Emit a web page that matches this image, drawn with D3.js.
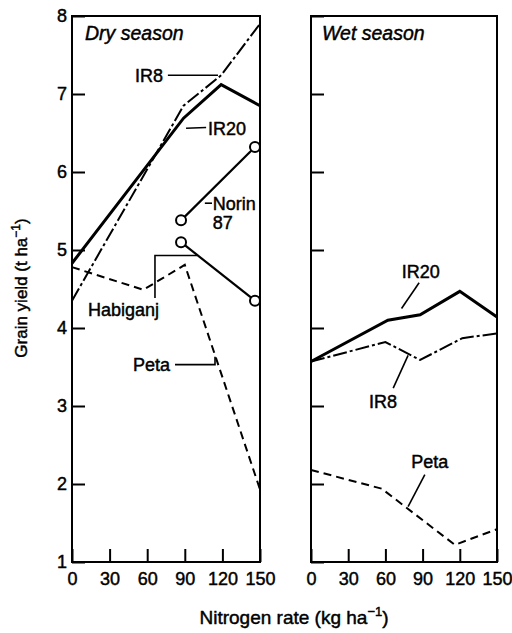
<!DOCTYPE html>
<html>
<head>
<meta charset="utf-8">
<script src="https://cdn.jsdelivr.net/npm/d3@7"></script>
<style>
  html, body { margin: 0; padding: 0; background: #fff; }
  svg { display: block; font-family: "Liberation Sans", Arial, Helvetica, sans-serif; }
  svg text { stroke: #000; stroke-width: 0.45px; fill: #000; }
</style>
</head>
<body>
<svg id="chart" width="512" height="633"></svg>
<script>
// ---------------- DATA ----------------
const xTicks = [0, 30, 60, 90, 120, 150];
const yTicks = [1, 2, 3, 4, 5, 6, 7, 8];

// Dry season
const dryIR8      = [[0, 4.35], [89, 6.85], [119, 7.24], [150, 7.9]];
const dryIR20     = [[0, 4.83], [89, 6.69], [119, 7.12], [150, 6.85]];
const dryNorin87  = [[87, 5.38], [146, 6.32]];
const dryHabiganj = [[87, 5.10], [146, 4.35]];
const dryPeta     = [[0, 4.78], [57, 4.49], [90, 4.81], [150, 1.93]];

// Wet season
const wetIR20 = [[0, 3.57], [62, 4.10], [88, 4.17], [120, 4.47], [150, 4.14]];
const wetIR8  = [[0, 3.57], [60, 3.82], [88, 3.59], [122, 3.87], [150, 3.93]];
const wetPeta = [[0, 2.18], [57, 1.94], [116, 1.22], [150, 1.42]];

// Labels (data coordinates) and leader lines
const dryLabels = [
  { text: "IR8", x: 72.6, y: 7.23, anchor: "end" },
  { text: "IR20", x: 108.5, y: 6.55, anchor: "start" },
  { text: "Norin", x: 112.3, y: 5.60, anchor: "start" },
  { text: "87", x: 112.3, y: 5.35, anchor: "start" },
  { text: "Habiganj", x: 12.8, y: 4.24, anchor: "start" },
  { text: "Peta", x: 48.7, y: 3.53, anchor: "start" }
];
const dryLeaders = [
  [[76.5, 7.24], [116.5, 7.24]],
  [[91, 6.56], [107, 6.57]],
  [[106, 5.60], [111.7, 5.60]],
  [[66.2, 4.385], [66.2, 4.93], [99.7, 4.93]],
  [[82.2, 3.53], [114.1, 3.53], [114.1, 3.63]]
];
const wetLabels = [
  { text: "IR20", x: 88.6, y: 4.72, anchor: "middle" },
  { text: "IR8", x: 58, y: 3.06, anchor: "middle" },
  { text: "Peta", x: 95.8, y: 2.29, anchor: "middle" }
];
const wetLeaders = [
  [[87.2, 4.58], [73.0, 4.25]],
  [[66.3, 3.23], [78.3, 3.65]],
  [[91.8, 2.12], [78.3, 1.71]]
];

// ---------------- DRAW ----------------
const svg = d3.select("#chart");
const plotTop = 16, plotBottom = 562;
const y = d3.scaleLinear().domain([1, 8]).range([plotBottom, plotTop]);
const xDry = d3.scaleLinear().domain([0, 150]).range([72, 260]);
const xWet = d3.scaleLinear().domain([0, 150]).range([311, 497]);

const styles = {
  solidThick: { w: 3, dash: null },
  solid: { w: 2.2, dash: null },
  dashdot: { w: 2, dash: "14,3,3,3" },
  dashed: { w: 2, dash: "8,5" }
};

function panel(x, showLabels, title, series, labels, leaders, circles) {
  const g = svg.append("g");

  // frame
  g.append("rect")
    .attr("x", x.range()[0]).attr("y", plotTop)
    .attr("width", x.range()[1] - x.range()[0]).attr("height", plotBottom - plotTop)
    .attr("fill", "none").attr("stroke", "#000").attr("stroke-width", 2);

  // y axis
  const ya = g.append("g").attr("transform", `translate(${x.range()[0]},0)`)
    .call(d3.axisLeft(y).tickValues(yTicks).tickSize(-13).tickPadding(5)
      .tickFormat(showLabels ? d3.format("d") : () => ""));
  ya.select(".domain").remove();
  ya.selectAll(".tick line").attr("stroke", "#000").attr("stroke-width", 2);
  ya.selectAll(".tick text").attr("font-size", 18)
    .attr("font-family", "Liberation Sans, Arial, sans-serif");

  // x axis
  const xa = g.append("g").attr("transform", `translate(0,${plotBottom})`)
    .call(d3.axisBottom(x).tickValues(xTicks).tickSize(-13).tickPadding(10).tickFormat(d3.format("d")));
  xa.select(".domain").remove();
  xa.selectAll(".tick line").attr("stroke", "#000").attr("stroke-width", 2);
  xa.selectAll(".tick text").attr("font-size", 18)
    .attr("font-family", "Liberation Sans, Arial, sans-serif");

  // title
  g.append("text").attr("x", x(title.x)).attr("y", y(title.y)).attr("dy", "0.35em")
    .attr("font-size", 19.5).attr("font-style", "italic").text(title.text);

  const line = d3.line().x(d => x(d[0])).y(d => y(d[1]));

  series.forEach(s => {
    g.append("path").datum(s.data).attr("d", line)
      .attr("fill", "none").attr("stroke", "#000")
      .attr("stroke-width", styles[s.style].w)
      .attr("stroke-dasharray", styles[s.style].dash)
      .attr("stroke-linejoin", "miter");
  });

  leaders.forEach(l => {
    g.append("path").datum(l).attr("d", line)
      .attr("fill", "none").attr("stroke", "#000").attr("stroke-width", 1.6);
  });

  circles.forEach(c => {
    g.selectAll(null).data(c).enter().append("circle")
      .attr("cx", d => x(d[0])).attr("cy", d => y(d[1])).attr("r", 5)
      .attr("fill", "#fff").attr("stroke", "#000").attr("stroke-width", 2);
  });

  labels.forEach(l => {
    g.append("text").attr("x", x(l.x)).attr("y", y(l.y)).attr("dy", "0.35em")
      .attr("text-anchor", l.anchor).attr("font-size", 18).text(l.text);
  });
}

panel(xDry, true, { text: "Dry season", x: 10.4, y: 7.78 },
  [
    { data: dryIR8, style: "dashdot" },
    { data: dryIR20, style: "solidThick" },
    { data: dryNorin87, style: "solid" },
    { data: dryHabiganj, style: "solid" },
    { data: dryPeta, style: "dashed" }
  ], dryLabels, dryLeaders, [dryNorin87, dryHabiganj]);

panel(xWet, false, { text: "Wet season", x: 8.9, y: 7.78 },
  [
    { data: wetIR8, style: "dashdot" },
    { data: wetIR20, style: "solidThick" },
    { data: wetPeta, style: "dashed" }
  ], wetLabels, wetLeaders, []);

// axis titles
const yt = svg.append("text")
  .attr("transform", "translate(27,288) rotate(-90)")
  .attr("text-anchor", "middle").attr("font-size", 17);
yt.append("tspan").text("Grain yield (t ha");
yt.append("tspan").attr("font-size", 12).attr("dy", -7).text("\u22121");
yt.append("tspan").attr("dy", 7).text(")");

const xt = svg.append("text")
  .attr("x", 294).attr("y", 624)
  .attr("text-anchor", "middle").attr("font-size", 19);
xt.append("tspan").text("Nitrogen rate (kg ha");
xt.append("tspan").attr("font-size", 13).attr("dy", -8).text("\u22121");
xt.append("tspan").attr("dy", 8).text(")");
</script>
</body>
</html>
